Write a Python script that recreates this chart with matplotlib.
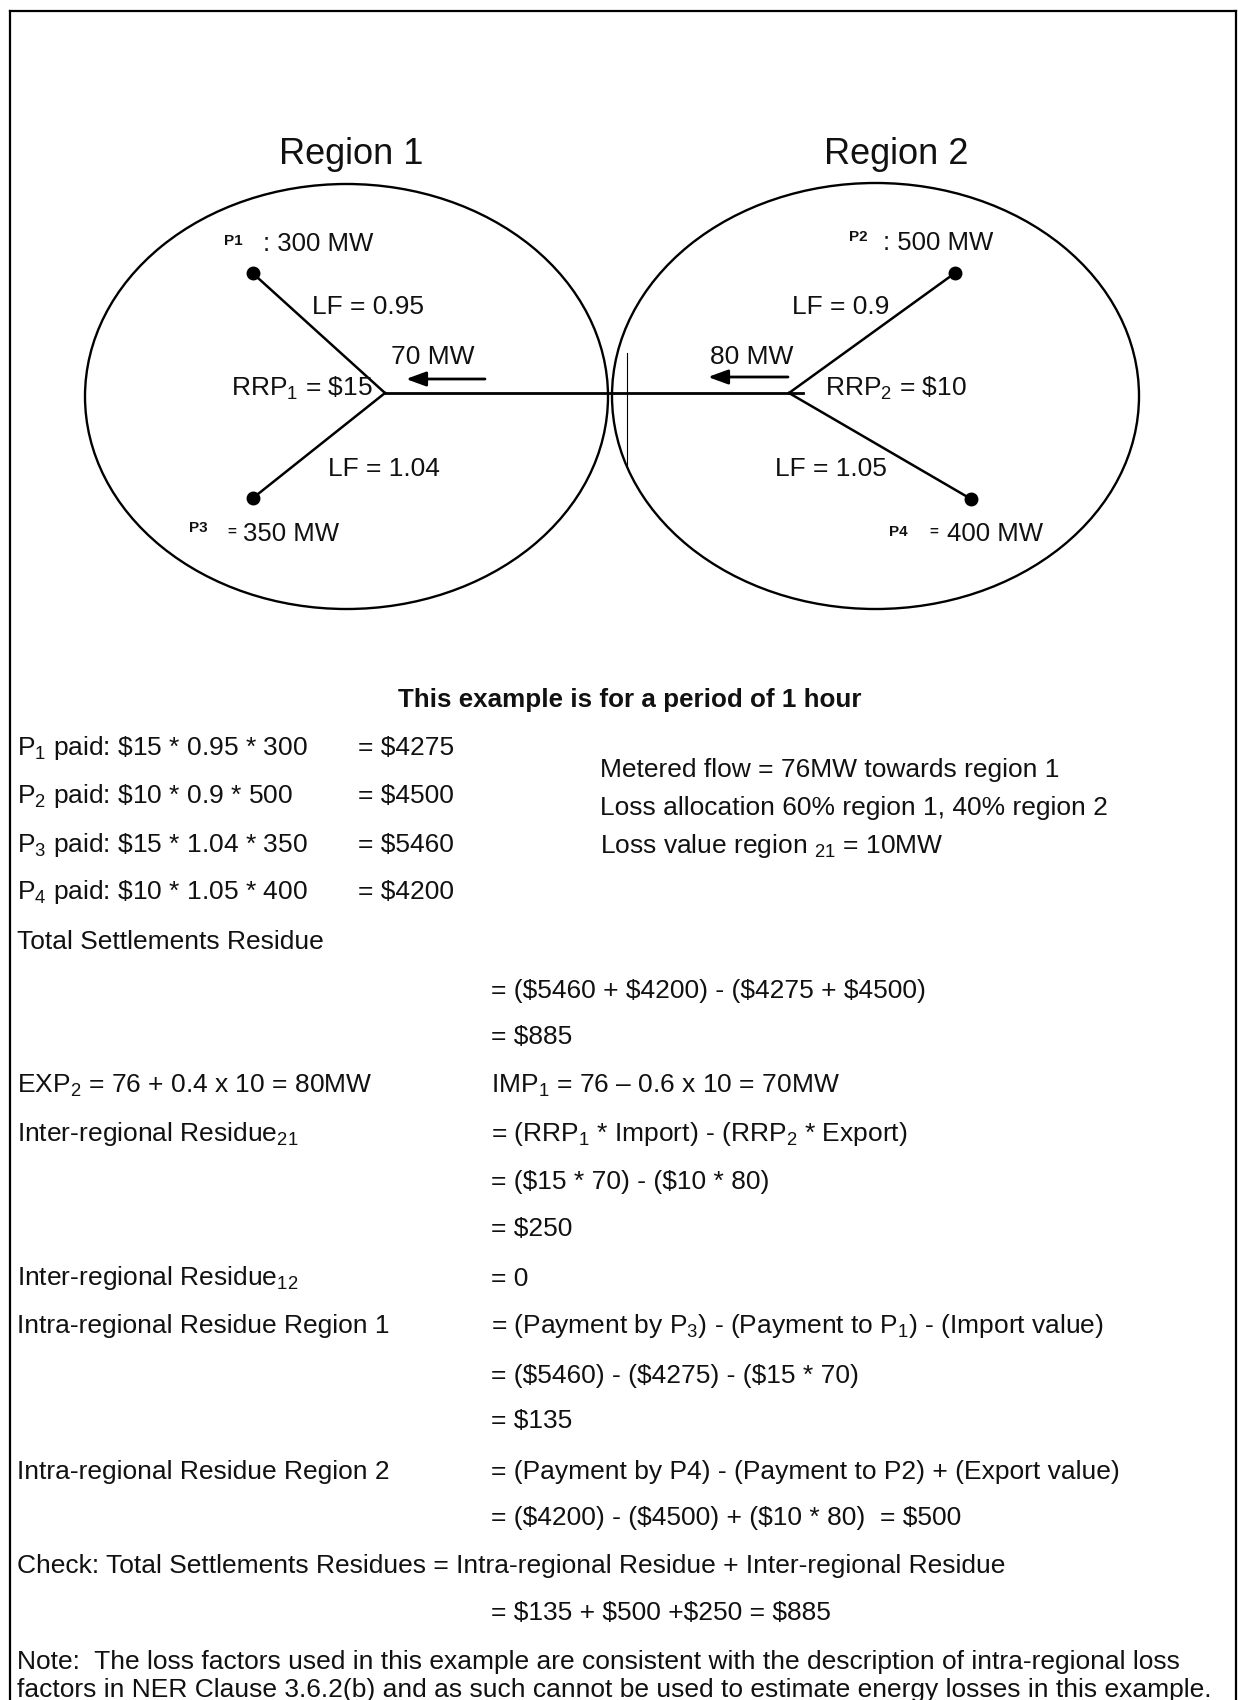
import matplotlib
matplotlib.use("Agg")
import matplotlib.pyplot as plt
from matplotlib.patches import Ellipse

plt.rcParams['font.family'] = ['Liberation Sans', 'DejaVu Sans']
plt.rcParams['mathtext.fontset'] = 'custom'
plt.rcParams['mathtext.rm'] = 'Liberation Sans'
plt.rcParams['mathtext.it'] = 'Liberation Sans:italic'
plt.rcParams['mathtext.bf'] = 'Liberation Sans:bold'

# ---------------- data ----------------
regions = ["Region 1", "Region 2"]
rrp = [15, 10]                      # regional reference prices ($)
node_names = ["P1", "P2", "P3", "P4"]
node_mw = [300, 500, 350, 400]      # MW at each node
node_lf = [0.95, 0.9, 1.04, 1.05]   # loss factors
node_price = [15, 10, 15, 10]
node_paid = [4275, 4500, 5460, 4200]
flows_mw = [70, 80]                 # import into region 1, export from region 2
metered_flow = 76
loss_alloc = [60, 40]
loss_value = 10

title_line = "This example is for a period of 1 hour"
right_block = [
    "Metered flow = %dMW towards region 1" % metered_flow,
    "Loss allocation %d%% region 1, %d%% region 2" % (loss_alloc[0], loss_alloc[1]),
    "Loss value region $_{21}$ = %dMW" % loss_value,
]
calc_left = [
    "Total Settlements Residue", "", "",
    "EXP$_2$ = 76 + 0.4 x 10 = 80MW",
    "Inter-regional Residue$_{21}$", "", "",
    "Inter-regional Residue$_{12}$",
    "Intra-regional Residue Region 1", "", "",
    "Intra-regional Residue Region 2", "",
]
calc_right = [
    "", r"= (\$5460 + \$4200) - (\$4275 + \$4500)", r"= \$885",
    "IMP$_1$ = 76 \u2013 0.6 x 10 = 70MW",
    "= (RRP$_1$ * Import) - (RRP$_2$ * Export)",
    r"= (\$15 * 70) - (\$10 * 80)", r"= \$250",
    "= 0",
    "= (Payment by P$_3$) - (Payment to P$_1$) - (Import value)",
    r"= (\$5460) - (\$4275) - (\$15 * 70)", r"= \$135",
    "= (Payment by P4) - (Payment to P2) + (Export value)",
    r"= (\$4200) - (\$4500) + (\$10 * 80)  = \$500",
]
check_line = "Check: Total Settlements Residues = Intra-regional Residue + Inter-regional Residue"
check_result = r"= \$135 + \$500 +\$250 = \$885"
note_lines = [
    "Note:  The loss factors used in this example are consistent with the description of intra-regional loss",
    "factors in NER Clause 3.6.2(b) and as such cannot be used to estimate energy losses in this example.",
]

# ---------------- figure ----------------
W, H = 1238, 1700
fig = plt.figure(figsize=(W / 100, H / 100), dpi=100)
ax = fig.add_axes([0, 0, 1, 1])
ax.set_xlim(0, W)
ax.set_ylim(H, 0)
ax.axis('off')

def T(x, yc, s, size, weight='normal', ha='left'):
    px = size * 100 / 72.0
    ax.text(x, yc + 0.36 * px, s, fontsize=size, fontweight=weight,
            ha=ha, va='baseline', color='#111111')

# frame
ax.plot([10, 10], [H, 11], color='black', lw=1.6, solid_capstyle='projecting')
ax.plot([10, 1236], [11, 11], color='black', lw=1.6, solid_capstyle='projecting')
ax.plot([1236, 1236], [11, H], color='black', lw=1.6)

# ellipses
ax.add_patch(Ellipse((346.5, 396.5), 523, 425, fill=False, lw=1.7, ec='black'))
ax.add_patch(Ellipse((875.5, 396), 527, 426, fill=False, lw=1.7, ec='black'))

# network lines
j1 = (385, 393)
j2 = (789, 393)
nodes_xy = [(252.5, 273), (955, 273), (253, 498), (971, 499)]
junction_of = [j1, j2, j1, j2]
for (nx, ny), (jx, jy) in zip(nodes_xy, junction_of):
    ax.plot([nx, jx], [ny, jy], color='black', lw=1.8)
ax.plot([j1[0], 803], [393, 393], color='black', lw=2.0)
ax.plot([627, 627], [353, 468], color='black', lw=0.8)
ax.plot([n[0] for n in nodes_xy], [n[1] for n in nodes_xy], 'o', ms=9, color='black')

# flow arrows
for (x0, x1, yy) in [(485, 406, 379), (788, 708, 377)]:
    ax.annotate('', xy=(x1, yy), xytext=(x0, yy),
                arrowprops=dict(arrowstyle='-|>,head_length=0.6,head_width=0.22',
                                lw=2.0, color='black', mutation_scale=20,
                                shrinkA=0, shrinkB=0))

# region titles
T(351, 151, regions[0], 26, ha='center')
T(896, 151, regions[1], 26, ha='center')

# node labels
small = 11
T(224, 239, node_names[0], small, 'bold')
T(263, 242, ": %d MW" % node_mw[0], 18.5)
T(849, 235, node_names[1], small, 'bold')
T(883, 241, ": %d MW" % node_mw[1], 18.5)
T(189, 527, node_names[2], small, 'bold')
T(227, 530, "=", 11, 'bold')
T(243, 532, "%d MW" % node_mw[2], 18.5)
T(889, 531, node_names[3], small, 'bold')
T(929, 530, "=", 11, 'bold')
T(947, 532, "%d MW" % node_mw[3], 18.5)

dl = 19
T(312, 304, "LF = %g" % node_lf[0], dl)
T(792, 304, "LF = %g" % node_lf[1], dl)
T(328, 466, "LF = %g" % node_lf[2], dl)
T(775, 466, "LF = %g" % node_lf[3], dl)
T(391, 354, "%d MW" % flows_mw[0], dl)
T(710, 354, "%d MW" % flows_mw[1], dl)
T(231, 386, r"RRP$_1$ = \$%d" % rrp[0], dl)
T(825, 386, r"RRP$_2$ = \$%d" % rrp[1], dl)

# text section
fs = 19
T(630, 698, title_line, 18.7, 'bold', ha='center')
row_y = [745, 793, 842, 889]
for i in range(4):
    T(17, row_y[i], r"P$_%d$ paid: \$%d * %g * %d" % (i + 1, node_price[i], node_lf[i], node_mw[i]), fs)
    T(358, row_y[i], r"= \$%d" % node_paid[i], fs)
for s, y in zip(right_block, [767, 805, 843]):
    T(600, y, s, fs)

calc_y = [939, 988, 1035, 1083, 1132, 1180, 1226, 1276, 1324, 1373, 1419, 1469, 1516]
for l, r, y in zip(calc_left, calc_right, calc_y):
    if l:
        T(17, y, l, fs)
    if r:
        T(491, y, r, fs)
T(17, 1564, check_line, fs)
T(491, 1611, check_result, fs)
T(17, 1659, note_lines[0], fs)
T(17, 1688, note_lines[1], fs)

fig.savefig("out.png", dpi=100, facecolor='white')
